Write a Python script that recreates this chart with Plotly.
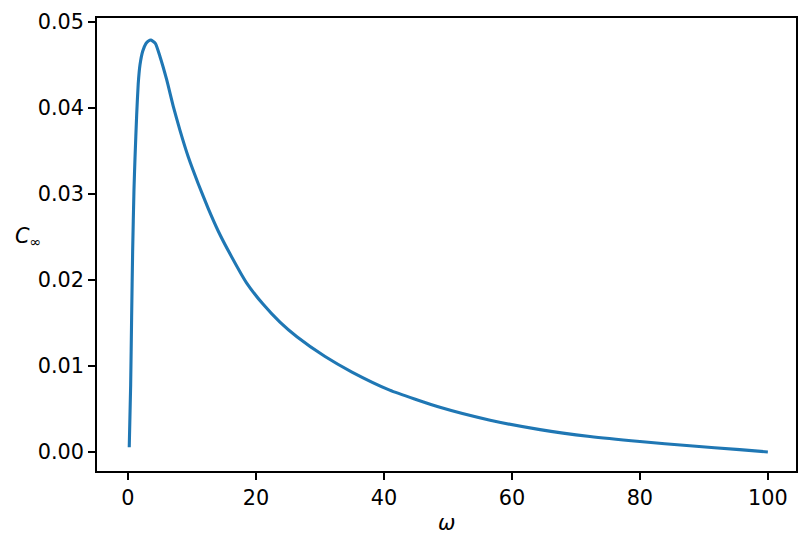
import plotly.graph_objects as go

# values
omega = [0.2, 0.42, 0.57, 0.73, 0.94, 1.1, 1.36, 1.6, 1.875, 2.3, 2.8, 3.2, 3.6,
         4.3, 5.0, 6.05, 7.08, 8.13, 9.43, 10.98, 12.55, 14.1, 15.9, 18.5, 21.1,
         23.75, 26.4, 30.8, 35.0, 40.9, 48.75, 56.6, 64.4, 72.2, 80.0, 87.8, 95.6, 100.0]
c_inf = [0.00055, 0.0078, 0.0156, 0.0233, 0.0305, 0.0342, 0.0392, 0.0428, 0.0450,
         0.0466, 0.0475, 0.0478, 0.0479, 0.0475, 0.0460, 0.0433, 0.0402, 0.0374,
         0.0343, 0.0312, 0.0283, 0.0257, 0.0231, 0.0197, 0.0172, 0.0151, 0.0134,
         0.0111, 0.0093, 0.0072, 0.0052, 0.0037, 0.0026, 0.0018, 0.00122, 0.00072,
         0.00028, 0.0]

x_ticks = [0, 20, 40, 60, 80, 100]
y_ticks = [0.0, 0.01, 0.02, 0.03, 0.04, 0.05]

font = dict(family="DejaVu Sans", size=20.8, color="black")

fig = go.Figure()
fig.add_trace(go.Scatter(
    x=omega, y=c_inf, mode="lines",
    line=dict(color="#1f77b4", width=3.1, shape="spline", smoothing=0.5),
))

axis_style = dict(
    showgrid=False, zeroline=False,
    showline=True, linecolor="black", linewidth=1.6, mirror=True,
    ticks="outside", ticklen=7, tickwidth=1.6, tickcolor="black",
    tickfont=font, automargin=False,
)
fig.update_xaxes(range=[-4.84, 104.4], tickvals=x_ticks, **axis_style)
fig.update_yaxes(range=[-0.00221, 0.05047], tickvals=y_ticks, tickformat=".2f", **axis_style)

# axis labels (y label sits horizontal, like the reference)
fig.add_annotation(text="<i>ω</i>", xref="paper", yref="paper", x=0.5007, y=-0.1148,
                   xanchor="center", yanchor="middle", showarrow=False, font=font)
fig.add_annotation(text="<i>C</i><sub>∞</sub>", xref="paper", yref="paper", x=-0.0987, y=0.5166,
                   xanchor="center", yanchor="middle", showarrow=False, font=font)

# page body adds an 8px offset, so margins are shifted to compensate
fig.update_layout(
    width=810, height=550,
    margin=dict(l=89, r=22, t=10, b=87),
    plot_bgcolor="white", paper_bgcolor="white",
    showlegend=False,
)
fig.write_html("out.html")
